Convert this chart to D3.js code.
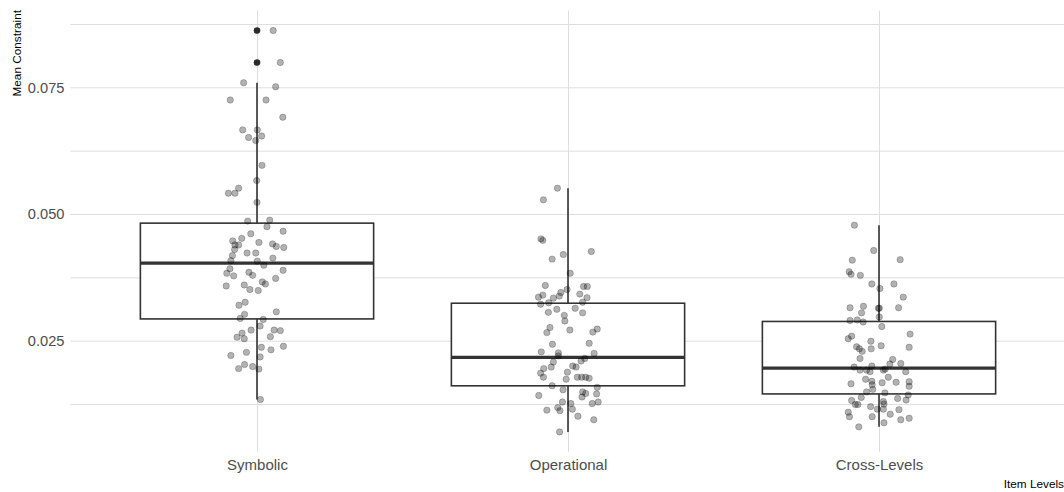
<!DOCTYPE html>
<html>
<head>
<meta charset="utf-8">
<script src="https://cdn.jsdelivr.net/npm/d3@7"></script>
<style>
  body{margin:0;background:#fff}
  svg{display:block;font-family:'Liberation Sans',Arial,sans-serif}
</style>
</head>
<body>
<svg id="chart" width="1064" height="492"></svg>
<script>
const categories=['Symbolic','Operational','Cross-Levels']

// mean constraint per item
const symbolicValues=[0.0862,0.0799,0.0759,0.0751,0.0725,0.0725,0.0691,0.0666,0.0666,0.0651,0.0654,0.0645,0.0596,0.0566,0.0551,0.0541,0.0541,0.0523,
  0.0486,0.0488,0.0475,0.0466,0.0461,0.0452,0.0447,0.0444,0.0439,0.0439,0.0441,0.0436,0.0434,0.0430,0.0423,0.0423,0.0418,0.0413,0.0408,0.0407,
  0.0399,0.0392,0.0389,0.0383,0.0385,0.0379,0.0378,0.0373,0.0366,0.0362,0.0360,0.0358,0.0351,0.0349,0.0326,0.0320,0.0307,0.0302,0.0294,0.0292,
  0.0279,0.0271,0.0271,0.0270,0.0265,0.0257,0.0254,0.0258,0.0237,0.0239,0.0227,0.0232,0.0221,0.0218,0.0203,0.0199,0.0195,0.0194,0.0134]
const operationalValues=[0.0551,0.0528,0.0451,0.0448,0.0426,0.0420,0.0411,0.0383,0.0359,0.0357,0.0357,0.0351,0.0345,0.0342,0.0340,0.0336,0.0338,0.0334,0.0335,
  0.0322,0.0325,0.0312,0.0314,0.0326,0.0306,0.0305,0.0300,0.0289,0.0276,0.0266,0.0271,0.0273,0.0267,0.0243,0.0245,0.0228,0.0226,0.0225,0.0220,
  0.0215,0.0210,0.0208,0.0195,0.0198,0.0200,0.0198,0.0188,0.0186,0.0178,0.0174,0.0178,0.0178,0.0178,0.0176,0.0161,0.0158,0.0153,0.0149,0.0146,
  0.0145,0.0142,0.0139,0.0129,0.0126,0.0126,0.0129,0.0118,0.0113,0.0112,0.0115,0.0101,0.0094,0.0070]
const crossValues=[0.0478,0.0428,0.0409,0.0410,0.0386,0.0381,0.0379,0.0362,0.0362,0.0353,0.0336,0.0315,0.0318,0.0314,0.0314,0.0315,0.0305,0.0297,0.0290,
  0.0291,0.0287,0.0278,0.0263,0.0259,0.0254,0.0249,0.0238,0.0240,0.0234,0.0237,0.0234,0.0229,0.0215,0.0213,0.0205,0.0204,0.0200,0.0198,0.0194,
  0.0192,0.0192,0.0192,0.0189,0.0189,0.0178,0.0174,0.0170,0.0165,0.0167,0.0168,0.0163,0.0169,0.0160,0.0154,0.0149,0.0147,0.0143,0.0138,0.0136,
  0.0133,0.0132,0.0130,0.0124,0.0124,0.0120,0.0125,0.0115,0.0115,0.0114,0.0109,0.0105,0.0100,0.0100,0.0094,0.0097,0.0088,0.0080]

// horizontal jitter, in category units
const symbolicJitter=[0.052,0.075,-0.043,0.060,-0.086,0.029,0.083,-0.046,0.001,-0.027,0.015,-0.004,0.016,-0.001,-0.059,-0.092,-0.071,0.000,
  -0.030,0.041,0.032,0.084,-0.020,-0.049,-0.078,0.006,-0.071,-0.059,0.050,0.062,0.086,-0.072,-0.032,-0.004,-0.079,0.051,-0.084,0.001,
  0.022,-0.087,0.084,-0.097,-0.026,-0.014,-0.075,0.060,0.017,0.027,-0.041,-0.099,-0.023,0.004,-0.038,-0.058,0.062,-0.040,-0.054,0.020,
  0.010,-0.019,0.055,0.075,-0.048,-0.064,-0.041,0.043,0.014,0.085,-0.034,0.045,-0.084,0.010,-0.040,-0.014,-0.059,0.006,0.011]
const operationalJitter=[-0.034,-0.079,-0.087,-0.081,0.075,-0.015,-0.051,0.007,-0.073,0.050,0.062,-0.003,-0.023,0.038,-0.081,-0.095,-0.028,-0.047,0.061,
  -0.088,-0.062,-0.036,0.023,0.047,-0.063,0.047,-0.012,-0.010,-0.058,-0.068,0.006,0.094,0.080,-0.050,0.068,-0.086,-0.031,0.084,-0.031,
  0.054,0.042,-0.047,-0.078,-0.054,0.015,0.026,-0.002,-0.088,-0.079,-0.006,0.030,0.044,0.057,0.068,-0.051,0.094,-0.016,0.047,0.057,
  0.092,-0.094,0.045,-0.018,0.009,0.078,0.097,-0.033,-0.068,-0.026,0.014,0.032,0.083,-0.027]
const crossJitter=[-0.079,-0.017,-0.086,0.068,-0.096,-0.090,-0.060,-0.023,0.048,0.003,0.078,-0.093,-0.050,-0.002,0.001,0.063,-0.056,0.001,-0.093,
  -0.070,-0.051,0.009,0.100,-0.088,-0.099,-0.026,-0.072,0.007,-0.025,0.097,-0.063,-0.054,-0.061,0.044,0.070,0.035,-0.023,-0.080,0.020,
  0.014,-0.061,-0.040,-0.029,0.086,0.030,-0.043,-0.023,-0.090,0.010,0.055,-0.022,0.097,0.097,-0.020,-0.040,0.019,0.094,-0.057,0.060,
  0.087,-0.088,0.014,-0.076,-0.068,-0.027,0.016,-0.005,0.014,0.064,-0.099,0.036,-0.095,-0.022,0.070,0.097,0.016,-0.065]

// box statistics
const whiskerLow=[0.0134,0.0070,0.0080]
const lowerHinge=[0.0293,0.0161,0.0145]
const medians=[0.0403,0.0217,0.0196]
const upperHinge=[0.0482,0.0324,0.0288]
const whiskerHigh=[0.0759,0.0551,0.0478]

const yMajorTicks=[0.025,0.05,0.075]
const yMinorTicks=[0.0125,0.0375,0.0625,0.0875]

const groupValues=[symbolicValues,operationalValues,crossValues]
const groupJitter=[symbolicJitter,operationalJitter,crossJitter]

const svg=d3.select('#chart')
const plotLeft=70.4,plotRight=1065.6,plotTop=10.5,plotBottom=452
const gridColor='#dedede'
const boxColor='#333333'

const x=d3.scalePoint().domain(categories).range([plotLeft,plotRight]).padding(0.6)
const step=x.step()

const allValues=d3.merge(groupValues)
const ext=d3.extent(allValues)
const pad=(ext[1]-ext[0])*0.05
const y=d3.scaleLinear().domain([ext[0]-pad,ext[1]+pad]).range([plotBottom,plotTop])

// grid
const hGrid=svg.append('g')
  .attr('transform',`translate(${plotLeft},0)`)
  .call(d3.axisLeft(y).tickValues(yMajorTicks.concat(yMinorTicks)).tickSize(-(plotRight-plotLeft)).tickFormat(''))
hGrid.select('.domain').remove()
hGrid.selectAll('line').attr('stroke',gridColor).attr('stroke-width',1)

const vGrid=svg.append('g')
  .attr('transform',`translate(0,${plotBottom})`)
  .call(d3.axisBottom(x).tickSize(-(plotBottom-plotTop)).tickFormat(''))
vGrid.select('.domain').remove()
vGrid.selectAll('line').attr('stroke',gridColor).attr('stroke-width',1)

// boxplots
const boxes=svg.append('g').selectAll('g')
  .data(categories)
  .join('g')
boxes.append('line')
  .attr('x1',d=>x(d)).attr('x2',d=>x(d))
  .attr('y1',(d,i)=>y(whiskerLow[i])).attr('y2',(d,i)=>y(whiskerHigh[i]))
  .attr('stroke',boxColor).attr('stroke-width',1.6)
boxes.append('rect')
  .attr('x',d=>x(d)-step*0.375)
  .attr('width',step*0.75)
  .attr('y',(d,i)=>y(upperHinge[i]))
  .attr('height',(d,i)=>y(lowerHinge[i])-y(upperHinge[i]))
  .attr('fill','#fff')
  .attr('stroke',boxColor).attr('stroke-width',1.6)
boxes.append('line')
  .attr('x1',d=>x(d)-step*0.375).attr('x2',d=>x(d)+step*0.375)
  .attr('y1',(d,i)=>y(medians[i])).attr('y2',(d,i)=>y(medians[i]))
  .attr('stroke',boxColor).attr('stroke-width',3.2)

// outliers, at the box centre
const outliers=[]
groupValues.forEach((vals,i)=>{
  vals.forEach(v=>{
    if(v>whiskerHigh[i]||v<whiskerLow[i]) outliers.push({cat:categories[i],v})
  })
})
svg.append('g').selectAll('circle')
  .data(outliers)
  .join('circle')
  .attr('cx',d=>x(d.cat))
  .attr('cy',d=>y(d.v))
  .attr('r',3.3)
  .attr('fill','#2b2b2b')

// jittered points
const points=[]
groupValues.forEach((vals,i)=>{
  vals.forEach((v,j)=>points.push({cat:categories[i],v,j:groupJitter[i][j]}))
})
svg.append('g').selectAll('circle')
  .data(points)
  .join('circle')
  .attr('cx',d=>x(d.cat)+d.j*step)
  .attr('cy',d=>y(d.v))
  .attr('r',3.2)
  .attr('fill','#000').attr('fill-opacity',0.3)
  .attr('stroke','#000').attr('stroke-opacity',0.3).attr('stroke-width',0.7)

// axes
const yAxis=svg.append('g')
  .attr('transform',`translate(${plotLeft},0)`)
  .call(d3.axisLeft(y).tickValues(yMajorTicks).tickSize(0).tickPadding(6).tickFormat(d3.format('.3f')))
yAxis.select('.domain').remove()
yAxis.selectAll('text').attr('font-size',14.6).attr('fill','#4d4d4d')
yAxis.attr('font-family',null)

const xAxis=svg.append('g')
  .attr('transform',`translate(0,${plotBottom})`)
  .call(d3.axisBottom(x).tickSize(0).tickPadding(7.3))
xAxis.select('.domain').remove()
xAxis.selectAll('text').attr('font-size',15).attr('fill','#4d4d4d')
xAxis.attr('font-family',null)

svg.append('text')
  .attr('transform','translate(21,10) rotate(-90)')
  .attr('text-anchor','end')
  .attr('font-size',11.8)
  .attr('fill','#000')
  .text('Mean Constraint')

svg.append('text')
  .attr('x',1064)
  .attr('y',488)
  .attr('text-anchor','end')
  .attr('font-size',11.8)
  .attr('fill','#000')
  .text('Item Levels')
</script>
</body>
</html>
